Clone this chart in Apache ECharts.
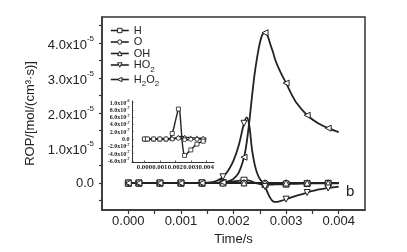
<!DOCTYPE html>
<html><head><meta charset="utf-8">
<script src="https://cdn.jsdelivr.net/npm/echarts@6/dist/echarts.min.js"></script>
<style>html,body{margin:0;padding:0;background:#fff}#c{width:407px;height:252px}</style>
</head><body><div id="c"></div>
<script>
// time in s; rates in units of 1e-5 mol/(cm^3·s)
const time = [0,0.0002,0.0004,0.0006,0.0008,0.001,0.0012,0.0014,0.0015,0.0016,0.0017,0.0018,0.0019,0.002,0.0021,0.0022,0.00225,0.0023,0.00235,0.0024,0.00245,0.0025,0.00255,0.0026,0.00265,0.0027,0.00275,0.0028,0.0029,0.003,0.0031,0.0032,0.0034,0.0036,0.0038,0.004];
const H    = [0,0,0,0,0,0,0,0,0,0,0.005,0.015,0.03,0.048,0.066,0.082,0.086,0.07,0.045,0.015,-0.01,-0.028,-0.04,-0.045,-0.046,-0.044,-0.041,-0.038,-0.034,-0.03,-0.025,-0.021,-0.014,-0.009,-0.006,-0.005];
const O    = [0,0,0,0,0,0,0,0,0,0,0,0,0,0.001,0.001,0.002,0.002,0.002,0.001,0,-0.001,-0.002,-0.002,-0.002,-0.002,-0.002,-0.002,-0.002,-0.001,-0.001,-0.001,-0.001,-0.001,0,0,0];
const OH   = [0,0,0,0,0,0,0,0,0,0,0,0.001,0.002,0.003,0.004,0.005,0.006,0.006,0.007,0.007,0.007,0.006,0.006,0.005,0.005,0.005,0.004,0.004,0.004,0.003,0.003,0.003,0.003,0.002,0.002,0.002];
const HO2  = [0,0,0,0,0,0,0,0.005,0.01,0.03,0.08,0.18,0.36,0.64,1.08,1.71,1.88,1.65,0.98,0.55,0.28,0.12,0.02,-0.1,-0.28,-0.43,-0.52,-0.54,-0.51,-0.46,-0.41,-0.36,-0.27,-0.19,-0.14,-0.1];
const H2O2 = [0,0,0,0,0,0,0,0,0.002,0.005,0.01,0.02,0.05,0.12,0.3,0.74,1.15,1.75,2.45,3.1,3.6,4.0,4.25,4.3,4.2,3.97,3.75,3.5,3.15,2.86,2.55,2.29,1.94,1.72,1.57,1.46];
const markerTimes = [0,0.0002,0.0006,0.001,0.0014,0.0018,0.0022,0.0026,0.003,0.0034,0.0038];
const xLabelValues = [0,0.001,0.002,0.003,0.004];
const xTickValues = [0,0.0005,0.001,0.0015,0.002,0.0025,0.003,0.0035,0.004];
const yLabelValues = [0,1,2,3,4];
const yTickValues = [-0.5,0,0.5,1,1.5,2,2.5,3,3.5,4,4.5];
const insetYLabelValues = [-0.06,-0.04,-0.02,0,0.02,0.04,0.06,0.08,0.1];
const legendNames = ['H','O','OH','HO2','H2O2'];

const SANS = 'Liberation Sans, Arial, sans-serif';
const SERIF = 'Liberation Serif, Times New Roman, serif';
const INK = '#222';

function mkData(vals, shape) {
  return time.map((t, i) => ({ value: [t, vals[i]], symbol: markerTimes.includes(t) ? shape : 'none' }));
}
function lineSeries(name, vals, shape, rot, inset) {
  return {
    name, type: 'line', xAxisIndex: inset ? 1 : 0, yAxisIndex: inset ? 1 : 0,
    data: mkData(vals, shape), symbol: shape, symbolRotate: rot,
    symbolSize: inset ? 4 : 6, smooth: 0.3,
    lineStyle: { color: INK, width: inset ? 1.4 : 1.8 },
    itemStyle: { color: '#fff', borderColor: INK, borderWidth: inset ? 0.8 : 1 },
    emphasis: { disabled: true }, animation: false, z: inset ? 5 : 3
  };
}

const chart = echarts.init(document.getElementById('c'), null, { renderer: 'canvas' });
chart.setOption({
  animation: false,
  grid: [
    { left: 102, top: 17, right: 42, bottom: 42, show: true, borderColor: '#333', borderWidth: 1.5, backgroundColor: 'transparent' },
    { left: 132, top: 101, width: 82, height: 61 }
  ],
  legend: {
    data: legendNames, orient: 'vertical', left: 110, top: 25, padding: 0,
    itemWidth: 18, itemHeight: 5.5, itemGap: 0.5,
    itemStyle: { color: '#fff', borderColor: INK, borderWidth: 1 },
    lineStyle: { color: INK, width: 1.6 },
    textStyle: { fontFamily: SANS, fontSize: 11, lineHeight: 11, color: INK,
      rich: {
        n: { fontFamily: SANS, fontSize: 11, lineHeight: 11, verticalAlign: 'top', color: INK },
        s: { fontFamily: SANS, fontSize: 8, lineHeight: 8, verticalAlign: 'top', padding: [6, 0, 0, 0], color: INK }
      } },
    formatter: n => n === 'HO2' ? '{n|HO}{s|2}' : n === 'H2O2' ? '{n|H}{s|2}{n|O}{s|2}' : n
  },
  xAxis: [
    { type: 'value', gridIndex: 0, min: -0.0005, max: 0.0045,
      name: 'Time/s', nameLocation: 'middle', nameGap: 20,
      nameTextStyle: { fontFamily: SANS, fontSize: 13, color: INK },
      axisLine: { show: true, onZero: false, lineStyle: { color: '#333', width: 1.5 } },
      axisTick: { show: true, inside: false, length: 4, customValues: xTickValues, lineStyle: { color: '#333', width: 1.2 } },
      axisLabel: { customValues: xLabelValues, margin: 5, fontFamily: SANS, fontSize: 13, color: INK,
        formatter: v => v.toFixed(3) },
      splitLine: { show: false } },
    { type: 'value', gridIndex: 1, min: -0.0008, max: 0.0045,
      axisLine: { show: true, onZero: false, lineStyle: { color: '#333', width: 1 } },
      axisTick: { show: true, inside: true, length: 1.5, customValues: xLabelValues, lineStyle: { color: '#333', width: 0.8 } },
      axisLabel: { customValues: xLabelValues, margin: 2, fontFamily: SERIF, fontWeight: 'bold', fontSize: 6.8, color: INK,
        showMinLabel: true, showMaxLabel: true, hideOverlap: false,
        formatter: v => v.toFixed(3) },
      splitLine: { show: false } }
  ],
  yAxis: [
    { type: 'value', gridIndex: 0, min: -0.77, max: 4.75,
      name: 'ROP/[mol/(cm³·s)]', nameLocation: 'middle', nameGap: 52,
      nameTextStyle: { fontFamily: SANS, fontSize: 13, color: INK },
      axisLine: { show: true, onZero: false, lineStyle: { color: '#333', width: 1.5 } },
      axisTick: { show: true, inside: false, length: 3, customValues: yTickValues, lineStyle: { color: '#333', width: 1.2 } },
      axisLabel: { customValues: yLabelValues, margin: 8, fontFamily: SANS, fontSize: 13, color: INK,
        formatter: v => Math.abs(v) < 1e-9 ? '0.0' : '{m|' + v.toFixed(1) + 'x10}{e|-5}',
        rich: {
          m: { fontFamily: SANS, fontSize: 13, lineHeight: 17, verticalAlign: 'bottom', color: INK },
          e: { fontFamily: SANS, fontSize: 8, lineHeight: 8, verticalAlign: 'top', color: INK }
        } },
      splitLine: { show: false } },
    { type: 'value', gridIndex: 1, min: -0.063, max: 0.104,
      axisLine: { show: true, onZero: false, lineStyle: { color: '#333', width: 1 } },
      axisTick: { show: true, inside: true, length: 1.5, customValues: insetYLabelValues, lineStyle: { color: '#333', width: 0.8 } },
      axisLabel: { customValues: insetYLabelValues, margin: 2.5, fontFamily: SERIF, fontWeight: 'bold', fontSize: 6, color: INK,
        showMinLabel: true, showMaxLabel: true, hideOverlap: false,
        formatter: v => {
          const k = Math.round(v * 1000) / 10;
          if (Math.abs(k) < 1e-9) return '0.0';
          if (Math.abs(k - 10) < 1e-9) return '{m|1.0x10}{e|-6}';
          return '{m|' + k.toFixed(1) + 'x10}{e|-7}';
        },
        rich: {
          m: { fontFamily: SERIF, fontWeight: 'bold', fontSize: 6, lineHeight: 7, verticalAlign: 'bottom', color: INK },
          e: { fontFamily: SERIF, fontWeight: 'bold', fontSize: 4, lineHeight: 4, verticalAlign: 'top', color: INK }
        } },
      splitLine: { show: false } }
  ],
  series: [
    lineSeries('H', H, 'rect', 0, false),
    lineSeries('O', O, 'circle', 0, false),
    lineSeries('OH', OH, 'triangle', 0, false),
    lineSeries('HO2', HO2, 'triangle', 180, false),
    lineSeries('H2O2', H2O2, 'triangle', 90, false),
    lineSeries('OH', OH, 'triangle', 0, true),
    lineSeries('O', O, 'circle', 0, true),
    lineSeries('H', H, 'rect', 0, true)
  ],
  graphic: [
    { type: 'text', left: 346, top: 184, style: { text: 'b', font: '15px ' + SANS, fill: INK } }
  ]
});
</script></body></html>
